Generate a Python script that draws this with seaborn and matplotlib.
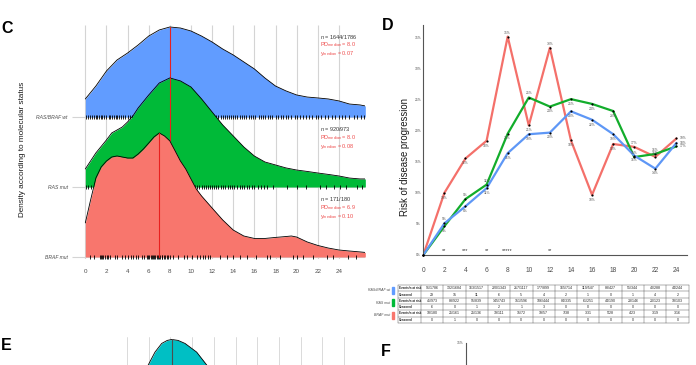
import matplotlib
matplotlib.use("Agg")
import matplotlib.pyplot as plt
import numpy as np
import pandas as pd
import seaborn as sns
from matplotlib.patches import Rectangle

W, H = 696, 365

GROUPS = ["RAS/BRAF wt", "RAS mut", "BRAF mut"]
FILL_COLORS = ["#619CFF", "#00BA38", "#F8766D"]
LINE_COLORS = ["#5E97F6", "#12AD2B", "#F4706A"]

# panel C: density of time to progression (months)
WT_X = [0, 1, 2, 3, 4, 5, 6, 7, 8, 9, 10, 11, 12, 13, 14, 15, 16, 17, 18, 19,
        20, 21, 22, 23, 24, 25, 26, 26.5]
WT_DENS = [.0139, .0239, .0355, .0440, .0494, .0556, .0625, .0672, .0695, .0687,
           .0664, .0625, .0579, .0525, .0479, .0425, .0371, .0301, .0239, .0201,
           .0170, .0154, .0147, .0139, .0124, .0100, .0093, .0085]
RAS_X = [0, 1, 2, 2.5, 3, 3.5, 4, 4.5, 5, 6, 7, 8, 9, 10, 11, 12, 13, 14, 15, 16,
         17, 18, 19, 20, 21, 22, 23, 24, 25, 26, 26.5]
RAS_DENS = [.0139, .0263, .0363, .0417, .0440, .0463, .0502, .0548, .0610, .0710,
            .0803, .0842, .0819, .0772, .0680, .0579, .0479, .0394, .0309, .0239,
            .0193, .0170, .0147, .0131, .0120, .0108, .0097, .0085, .0069, .0062, .0062]
BRAF_X = [0, 0.5, 1, 1.5, 2, 2.5, 3, 3.5, 4, 4.5, 5, 5.5, 6, 6.5, 7, 7.5, 8, 8.5,
          9, 9.5, 10, 10.5, 11, 12, 13, 14, 15, 16, 17, 18, 19, 19.5, 20, 21, 22,
          23, 24, 25, 26, 26.5]
BRAF_DENS = [.0263, .0440, .0610, .0695, .0741, .0772, .0780, .0772, .0764, .0764,
             .0795, .0834, .0880, .0927, .0958, .0934, .0896, .0819, .0741, .0680,
             .0602, .0525, .0471, .0378, .0286, .0208, .0162, .0143, .0143, .0151,
             .0158, .0162, .0154, .0116, .0089, .0069, .0054, .0046, .0039, .0035]

WT_RUG = [0.1, 0.3, 0.4, 0.6, 0.8, 1.0, 1.1, 1.3, 1.5, 1.6, 1.8, 2.0, 2.2, 2.3, 2.5,
          2.7, 2.9, 3.0, 3.2, 3.4, 3.6, 3.8, 4.0, 4.2, 4.4, 5.0, 5.5, 6.0, 6.5, 7.0,
          7.5, 8.0, 8.5, 9.0, 9.5, 10.0, 10.5, 11.0, 11.5, 12.0, 12.2, 12.4, 12.6,
          12.8, 13.0, 13.2, 13.4, 13.6, 13.8, 14.0, 14.2, 14.4, 14.6, 14.8, 15.0,
          15.2, 15.5, 15.7, 15.9, 16.1, 16.4, 16.6, 16.8, 17.0, 17.3, 17.5, 17.7,
          18.0, 18.2, 18.5, 18.7, 19.0, 19.2, 19.5, 19.8, 20.0, 20.3, 20.6, 20.9,
          21.2, 21.5, 21.8, 22.0, 22.3, 22.7, 23.0, 23.3, 23.6, 24.0, 24.3, 24.6,
          25.0, 25.4, 25.7, 26.1, 26.4]
RAS_RUG = [0.1, 0.3, 0.5, 1.0, 1.5, 2.0, 2.5, 3.0, 3.5, 4.0, 4.5, 5.0, 5.5, 6.0,
           6.5, 7.0, 7.5, 8.0, 8.5, 9.0, 9.5, 10.0, 10.2, 10.4, 10.6, 10.8, 11.0,
           11.2, 11.4, 11.6, 11.8, 12.0, 12.2, 12.4, 12.6, 12.8, 13.0, 13.2, 13.5,
           13.7, 13.9, 14.1, 14.4, 14.6, 14.8, 15.0, 15.3, 15.5, 15.8, 16.0, 16.3,
           16.6, 16.9, 17.2, 17.8, 19.1, 20.0, 20.9, 22.2, 22.8, 23.5, 24.1, 24.7,
           25.7, 26.2]
BRAF_RUG = [0.44, 0.82, 1.39, 1.5, 1.6, 1.70, 1.85, 2.02, 2.15, 2.33, 2.81, 3.0,
            3.44, 3.75, 4.07, 4.3, 4.54, 4.79, 5.02, 5.33, 5.6, 5.80, 5.9, 6.06,
            6.2, 6.28, 6.4, 6.50, 6.6, 6.75, 6.9, 7.0, 7.1, 7.22, 7.3, 7.44, 7.55,
            7.70, 7.85, 8.01, 8.33, 8.80, 9.3, 9.59, 10.06, 10.54, 10.85, 11.1,
            11.32, 11.64, 11.80, 12.74, 13.38, 14.0, 14.64, 15.27, 16.2, 17.16,
            17.48, 18.42, 19.68, 20.0, 20.63, 21.58, 22.84, 23.47, 24.9, 25.6]

N_LABELS = ["1644/1786", "920/973", "171/180"]
PD_MEDIAN = [8.0, 8.0, 6.9]
Y_MEDIAN = [0.07, 0.08, 0.10]

# panel D / table: events, at risk and censored per 2-month interval
MONTHS = [2, 4, 6, 8, 10, 12, 14, 16, 18, 20, 22, 24]
WT_EVENTS = [91, 132, 163, 220, 217, 177, 165, 119, 83, 55, 40, 44]
WT_AT_RISK = [1786, 1684, 1517, 1343, 1117, 899, 714, 547, 427, 344, 288, 244]
WT_CENSORED = [29, 15, 11, 6, 5, 4, 2, 1, 0, 1, 4, 2]
RAS_EVENTS = [45, 83, 95, 145, 151, 106, 84, 61, 44, 23, 20, 18]
RAS_AT_RISK = [973, 922, 839, 743, 596, 444, 335, 251, 190, 146, 123, 103]
RAS_CENSORED = [6, 0, 1, 2, 1, 3, 0, 0, 0, 0, 0, 0]
BRAF_EVENTS = [18, 25, 25, 39, 15, 19, 7, 3, 5, 4, 3, 3]
BRAF_AT_RISK = [180, 161, 136, 111, 72, 57, 38, 31, 28, 23, 19, 16]
BRAF_CENSORED = [0, 1, 0, 0, 0, 0, 0, 0, 0, 0, 0, 0]
SIGNIF = ["**", "***", "**", "*****", "", "**", "", "", "", "", "", ""]

# panel E (cut off at the bottom of the image)
TEAL_X = [5.3, 5.93, 6.57, 7.19, 7.7, 8.11, 8.7, 9.34, 10.41, 11.36, 12.0]
TEAL_DENS = [.092, .1048, .1301, .1467, .1525, .1543, .1525, .1467, .1301, .1048, .092]

sns.set_theme(style="white")
plt.rcParams["font.family"] = ["Liberation Sans", "DejaVu Sans"]
plt.rcParams["mathtext.fontset"] = "custom"
plt.rcParams["mathtext.rm"] = "Liberation Sans"
plt.rcParams["mathtext.it"] = "Liberation Sans:italic"
plt.rcParams["mathtext.default"] = "regular"

TICK_GRAY = "#4D4D4D"
GRID = "#D4D4D4"
fig = plt.figure(figsize=(W / 100, H / 100), dpi=100)


def px_axes(x0, y0, x1, y1):
    return fig.add_axes([x0 / W, 1 - y1 / H, (x1 - x0) / W, (y1 - y0) / H])


# ---- C: ridgelines
SCALE = 18.5
C_YLIM = (-0.029, 3.314)
axc = px_axes(72, 25, 365, 259)
axc.set_xlim(-1.26, 26.47)
axc.set_ylim(*C_YLIM)
for s in axc.spines.values():
    s.set_visible(False)
axc.set_xticks(range(0, 25, 2))
axc.set_yticks([2, 1, 0])
axc.set_yticklabels(GROUPS, fontstyle="italic", fontsize=3.6, color=TICK_GRAY)
axc.tick_params(axis="x", length=0, pad=7, labelsize=4.5, labelcolor=TICK_GRAY)
axc.tick_params(axis="y", length=0, pad=3)
axc.vlines(list(range(0, 25, 2)), C_YLIM[0], C_YLIM[1], colors=GRID, lw=0.8, zorder=1)
axc.hlines([0, 1, 2], -1.26, 26.47, colors=GRID, lw=0.8, zorder=1)

ridges = [(WT_X, WT_DENS, WT_RUG), (RAS_X, RAS_DENS, RAS_RUG), (BRAF_X, BRAF_DENS, BRAF_RUG)]
annot_lift = [1.147, 0.829, 0.829]
for i, (xs, dens, rug) in enumerate(ridges):
    base = 2 - i
    top = base + np.array(dens) * SCALE
    z = 2 + i * 4
    axc.fill_between(xs, base, top, color=FILL_COLORS[i], lw=0, zorder=z)
    axc.plot(xs, top, color="black", lw=0.6, zorder=z + 0.1)
    axc.plot(rug, [base] * len(rug), ls="none", marker="|", ms=3.4, mew=0.6,
             color="black", zorder=z + 0.2)
    k = int(np.argmax(dens))
    axc.plot([xs[k], xs[k]], [base, top[k]], color="#E8201F", lw=0.8, zorder=z + 0.3)

    ty = base + annot_lift[i]
    axc.text(22.2, ty, r"$\it{n}$ = " + N_LABELS[i], fontsize=4, color="#333333",
             va="center", zorder=20)
    axc.text(22.2, ty - 0.118, r"PD$_{median}$ = " + f"{PD_MEDIAN[i]:.1f}", fontsize=4,
             color="#EE4B4B", va="center", zorder=20)
    axc.text(22.2, ty - 0.247, r"y$_{median}$ = " + f"{Y_MEDIAN[i]:.2f}", fontsize=4,
             color="#EE4B4B", va="center", zorder=20)

fig.text(22 / W, 1 - 149 / H, "Density according to molecular status", rotation=90,
         fontsize=5.9, ha="center", va="center", color="#1A1A1A")

# ---- D: risk of progression
rows = []
series = [("RAS/BRAF wt", WT_EVENTS, WT_AT_RISK), ("RAS mut", RAS_EVENTS, RAS_AT_RISK),
          ("BRAF mut", BRAF_EVENTS, BRAF_AT_RISK)]
for name, ev, ar in series:
    rows.append({"group": name, "month": 0, "risk": 0.0})
    for m, e, n in zip(MONTHS, ev, ar):
        rows.append({"group": name, "month": m, "risk": 100 * e / n})
df = pd.DataFrame(rows)

axd = px_axes(423.3, 25, 687, 255)
sns.lineplot(data=df, x="month", y="risk", hue="group",
             hue_order=["BRAF mut", "RAS mut", "RAS/BRAF wt"],
             palette={g: c for g, c in zip(GROUPS, LINE_COLORS)},
             lw=1.6, legend=False, ax=axd)
axd.scatter(df["month"], df["risk"], s=2.5, color="black", zorder=5, clip_on=False, lw=0)
axd.set_xlim(0, 25)
axd.set_ylim(0, 37)
axd.set_xlabel("")
axd.set_ylabel("")
axd.set_xticks(range(0, 25, 2))
axd.set_yticks(range(0, 36, 5))
axd.set_yticklabels([f"{v}%" for v in range(0, 36, 5)])
axd.tick_params(axis="x", length=0, pad=9, labelsize=4.8, labelcolor=TICK_GRAY)
axd.tick_params(axis="y", length=0, pad=1.5, labelsize=2.4, labelcolor=TICK_GRAY)
for side in ["top", "right"]:
    axd.spines[side].set_visible(False)
for side in ["left", "bottom"]:
    axd.spines[side].set_color("#555555")
    axd.spines[side].set_linewidth(0.8)

label_side = {"RAS/BRAF wt": "abbbbbbbbbbr", "RAS mut": "baababbbbaar",
              "BRAF mut": "bbbababbbaar"}
offsets = {"a": ((0, 1.5), "center", "bottom"), "b": ((0, -2), "center", "top"),
           "r": ((2, 0), "left", "center")}
for name, ev, ar in series:
    for j, (m, e, n) in enumerate(zip(MONTHS, ev, ar)):
        v = 100 * e / n
        off, ha, va = offsets[label_side[name][j]]
        axd.annotate(f"{int(np.floor(v + 0.5))}%", (m, v), xytext=off,
                     textcoords="offset points", fontsize=2.4, color="#555555",
                     ha=ha, va=va, zorder=6)
for m, s in zip(MONTHS, SIGNIF):
    if s:
        axd.text(m, 0.55, s, fontsize=4, ha="center", va="baseline", color="#333333")

fig.text(405 / W, 1 - 157.5 / H, "Risk of disease progression", rotation=90,
         fontsize=6.9, ha="center", va="center", color="#1A1A1A")

# ---- table under D
tx0, tx1, ty0, ty1 = 397.7, 688.6, 285, 323
first_w, col_w = 23.3, 22.3
axt = px_axes(tx0, ty0, tx1, ty1)
axt.set_xlim(tx0, tx1)
axt.set_ylim(ty1, ty0)
axt.axis("off")
row_h = (ty1 - ty0) / 6
col_edges = [tx0, tx0 + first_w] + [tx0 + first_w + col_w * (k + 1) for k in range(12)]
for r in range(7):
    axt.plot([tx0, tx1], [ty0 + r * row_h] * 2, color="#444444", lw=0.3, clip_on=False)
for xe in col_edges:
    axt.plot([xe, xe], [ty0, ty1], color="#444444", lw=0.3, clip_on=False)

table_rows = [(WT_EVENTS, WT_AT_RISK, WT_CENSORED), (RAS_EVENTS, RAS_AT_RISK, RAS_CENSORED),
              (BRAF_EVENTS, BRAF_AT_RISK, BRAF_CENSORED)]
for g, (ev, ar, ce) in enumerate(table_rows):
    y_ev = ty0 + (2 * g + 0.5) * row_h
    y_ce = ty0 + (2 * g + 1.5) * row_h
    axt.text(tx0 + 1, y_ev, "Events/n at risk", fontsize=2.2, fontweight="bold",
             ha="left", va="center")
    axt.text(tx0 + 1, y_ce, "Censored", fontsize=2.2, fontweight="bold",
             ha="left", va="center")
    for k in range(12):
        cx = col_edges[k + 1] + col_w / 2
        axt.text(cx, y_ev, f"{ev[k]}/{ar[k]}", fontsize=2.6, ha="center", va="center")
        axt.text(cx, y_ce, f"{ce[k]}", fontsize=2.6, ha="center", va="center")
    yc = ty0 + (2 * g + 0.8) * row_h
    fig.text(390 / W, 1 - yc / H, GROUPS[g], fontsize=2.5, fontstyle="italic",
             ha="right", va="center", color=TICK_GRAY)
    fig.patches.append(Rectangle((392 / W, 1 - (yc + 3.5) / H), 2.4 / W, 7 / H,
                                 transform=fig.transFigure, color=FILL_COLORS[g]))

# ---- E: next ridgeline panel, cut off
axe = px_axes(72, 336.5, 365, 420)
axe.set_xlim(-1.08, 25.93)
axe.set_ylim(0, 0.16)
axe.axis("off")
for gx in range(4, 25, 2):
    axe.axvline(gx, color=GRID, lw=0.6, zorder=0)
axe.fill_between(TEAL_X, 0, TEAL_DENS, color="#00BFC4", lw=0, zorder=2)
axe.plot(TEAL_X, TEAL_DENS, color="black", lw=0.6, zorder=3)
kt = int(np.argmax(TEAL_DENS))
axe.plot([TEAL_X[kt]] * 2, [0, TEAL_DENS[kt]], color="#4D4D4D", lw=0.8, zorder=4)

# ---- F: next risk panel, cut off
axf = px_axes(466, 343, 730, 561)
axf.set_xlim(0, 25)
axf.set_ylim(0, 35)
for side in ["top", "right", "bottom"]:
    axf.spines[side].set_visible(False)
axf.spines["left"].set_color("#555555")
axf.spines["left"].set_linewidth(0.8)
axf.set_xticks([])
axf.set_yticks([35])
axf.set_yticklabels(["35%"])
axf.tick_params(axis="y", length=0, pad=1.5, labelsize=2.4, labelcolor=TICK_GRAY)

# panel letters
for letter, lx, ly in [("C", 7, 28.5), ("D", 388, 26), ("E", 6.5, 346), ("F", 386, 352)]:
    fig.text(lx / W, 1 - ly / H, letter, fontsize=11.5, fontweight="bold",
             ha="center", va="center", color="black")

fig.savefig("out.png", dpi=100)
